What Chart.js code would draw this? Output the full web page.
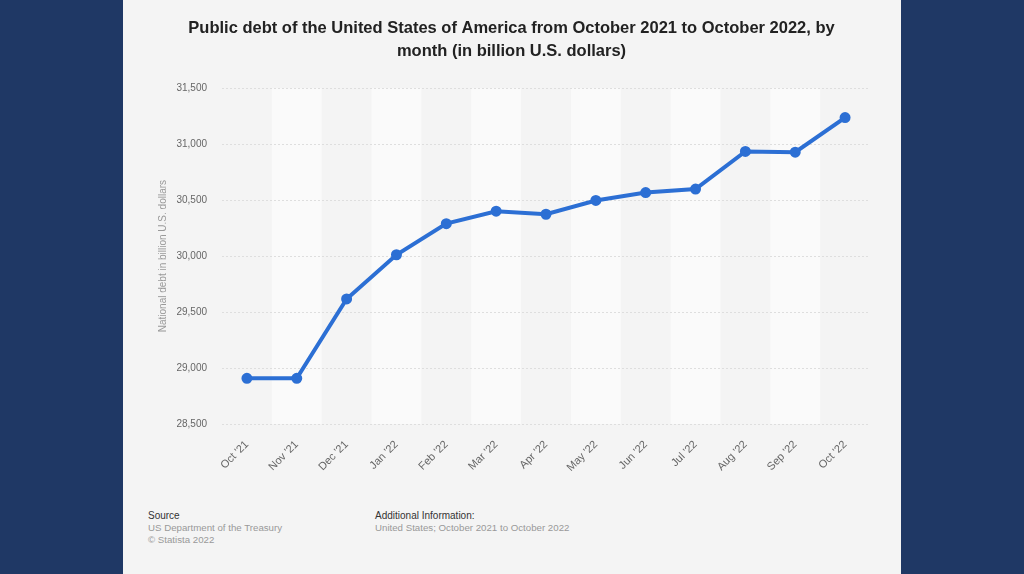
<!DOCTYPE html>
<html>
<head>
<meta charset="utf-8">
<script src="https://cdn.jsdelivr.net/npm/chart.js@4.4.1/dist/chart.umd.min.js"></script>
<style>
    html, body { margin: 0; padding: 0; }
    body { width: 1024px; height: 574px; background: #1f3865; position: relative; overflow: hidden; font-family: "Liberation Sans", Arial, sans-serif; }
    #panel { position: absolute; left: 123px; top: 0; width: 778px; height: 574px; background: #f4f4f4; }
    #wrap { position: absolute; left: 0; top: 0; width: 778px; height: 490px; }
    .foot { position: absolute; top: 510px; font-size: 9.7px; line-height: 12px; color: #999; }
    .foot b { font-weight: normal; color: #333; font-size: 10px; }
</style>
</head>
<body>
<div id="panel">
    <div id="wrap"><canvas id="debt_graph"></canvas></div>
    <div class="foot" style="left:25px"><b>Source</b><br>US Department of the Treasury<br>© Statista 2022</div>
    <div class="foot" style="left:252px"><b>Additional Information:</b><br>United States; October 2021 to October 2022</div>
</div>
<script>
const months = ["Oct '21", "Nov '21", "Dec '21", "Jan '22", "Feb '22", "Mar '22", "Apr '22", "May '22", "Jun '22", "Jul '22", "Aug '22", "Sep '22", "Oct '22"]
const debt = [28908, 28908, 29617, 30012, 30290, 30401, 30374, 30497, 30568, 30599, 30935, 30928, 31238]
const titleLines = ["Public debt of the United States of America from October 2021 to October 2022, by", "month (in billion U.S. dollars)"]
const yTitle = "National debt in billion U.S. dollars"

// lighter stripes behind every other month
const bands = {
    id: "bands",
    beforeDraw(chart){
        const x = chart.scales.x
        const area = chart.chartArea
        const half = (x.getPixelForValue(1) - x.getPixelForValue(0)) / 2
        const ctx = chart.ctx
        ctx.save()
        ctx.fillStyle = "#fafafa"
        for(let i = 1; i < months.length; i += 2){
            const cx = x.getPixelForValue(i)
            ctx.fillRect(cx - half, area.top, half * 2, area.bottom - area.top)
        }
        ctx.restore()
    }
}

const charts_data = {
    labels: months,
    datasets: [{
        label: "Public debt",
        data: debt,
        borderColor: "#2c6fd4",
        backgroundColor: "#2c6fd4",
        borderWidth: 4,
        pointRadius: 3.5,
        pointHoverRadius: 3.5,
        tension: 0
    }]
}

const config = {
    type: "line",
    data: charts_data,
    plugins: [bands],
    options: {
        responsive: true,
        maintainAspectRatio: false,
        animation: false,
        layout: { padding: { left: 30, right: 31, top: 0, bottom: 0 } },
        plugins: {
            legend: { display: false },
            tooltip: { enabled: false },
            title: {
                display: true,
                text: titleLines,
                color: "#222",
                font: { family: "Liberation Sans", size: 16.5, weight: "bold", lineHeight: 1.4 },
                padding: { top: 17, bottom: 25 }
            }
        },
        scales: {
            x: {
                offset: true,
                grid: { display: false, drawTicks: false },
                border: { display: false },
                ticks: {
                    color: "#666",
                    font: { family: "Liberation Sans", size: 11 },
                    minRotation: 45,
                    maxRotation: 45,
                    padding: 14,
                    autoSkip: false
                },
                afterFit(scale){ scale.height = 66 }
            },
            y: {
                min: 28500,
                max: 31500,
                grid: { color: "#dedede", drawTicks: false },
                border: { display: false, dash: [2, 2] },
                ticks: {
                    stepSize: 500,
                    color: "#666",
                    font: { family: "Liberation Sans", size: 10 },
                    padding: 15
                },
                title: {
                    display: true,
                    text: yTitle,
                    color: "#999",
                    font: { family: "Liberation Sans", size: 10 },
                    padding: { top: 4, bottom: 0 }
                },
                afterFit(scale){ scale.width = 69 }
            }
        }
    }
}

const chartId = document.getElementById("debt_graph")
const chart = new Chart(chartId, config)
</script>
</body>
</html>
